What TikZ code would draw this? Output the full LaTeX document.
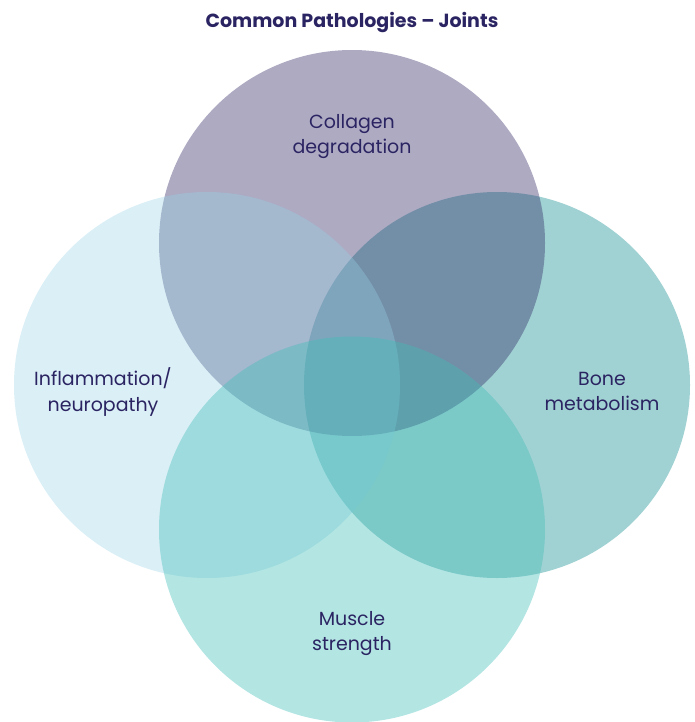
\documentclass[tikz,border=0pt]{standalone}
\usepackage{fontspec}
\setmainfont{Poppins}
\begin{document}
\begin{tikzpicture}[x=1pt,y=-1pt,
  ring/.style={circle,minimum size=386pt,inner sep=0pt},
  lbl/.style={text=inkblue,align=center,font=\fontsize{19}{25.5}\selectfont},
]
\definecolor{inkblue}{RGB}{43,36,98}
\definecolor{cTop}{RGB}{43,36,98}
\definecolor{cLeft}{RGB}{149,209,229}
\definecolor{cRight}{RGB}{37,150,153}
\definecolor{cBot}{RGB}{65,190,185}
\useasboundingbox (0,0) rectangle (695,722);
% overlapping circles, later ones laid over earlier ones
\node[ring,fill=cRight,fill opacity=0.43] (right) at (497,385) {};
\node[ring,fill=cTop,fill opacity=0.39] (top) at (352,243) {};
\node[ring,fill=cLeft,fill opacity=0.35] (left) at (207,385) {};
\node[ring,fill=cBot,fill opacity=0.40] (bottom) at (352,529.5) {};
% title and labels
\node[text=inkblue,font=\fontsize{19}{22}\selectfont\bfseries] (title) at (352,23) {Common Pathologies – Joints};
\node[lbl] (ltop) at (352,136.5) {Collagen\\degradation};
\node[lbl] (lleft) at (103,392) {Inflammation/\\neuropathy};
\node[lbl] (lright) at (602,391.5) {Bone\\metabolism};
\node[lbl] (lbot) at (352,633.5) {Muscle\\strength};
\end{tikzpicture}
\end{document}
